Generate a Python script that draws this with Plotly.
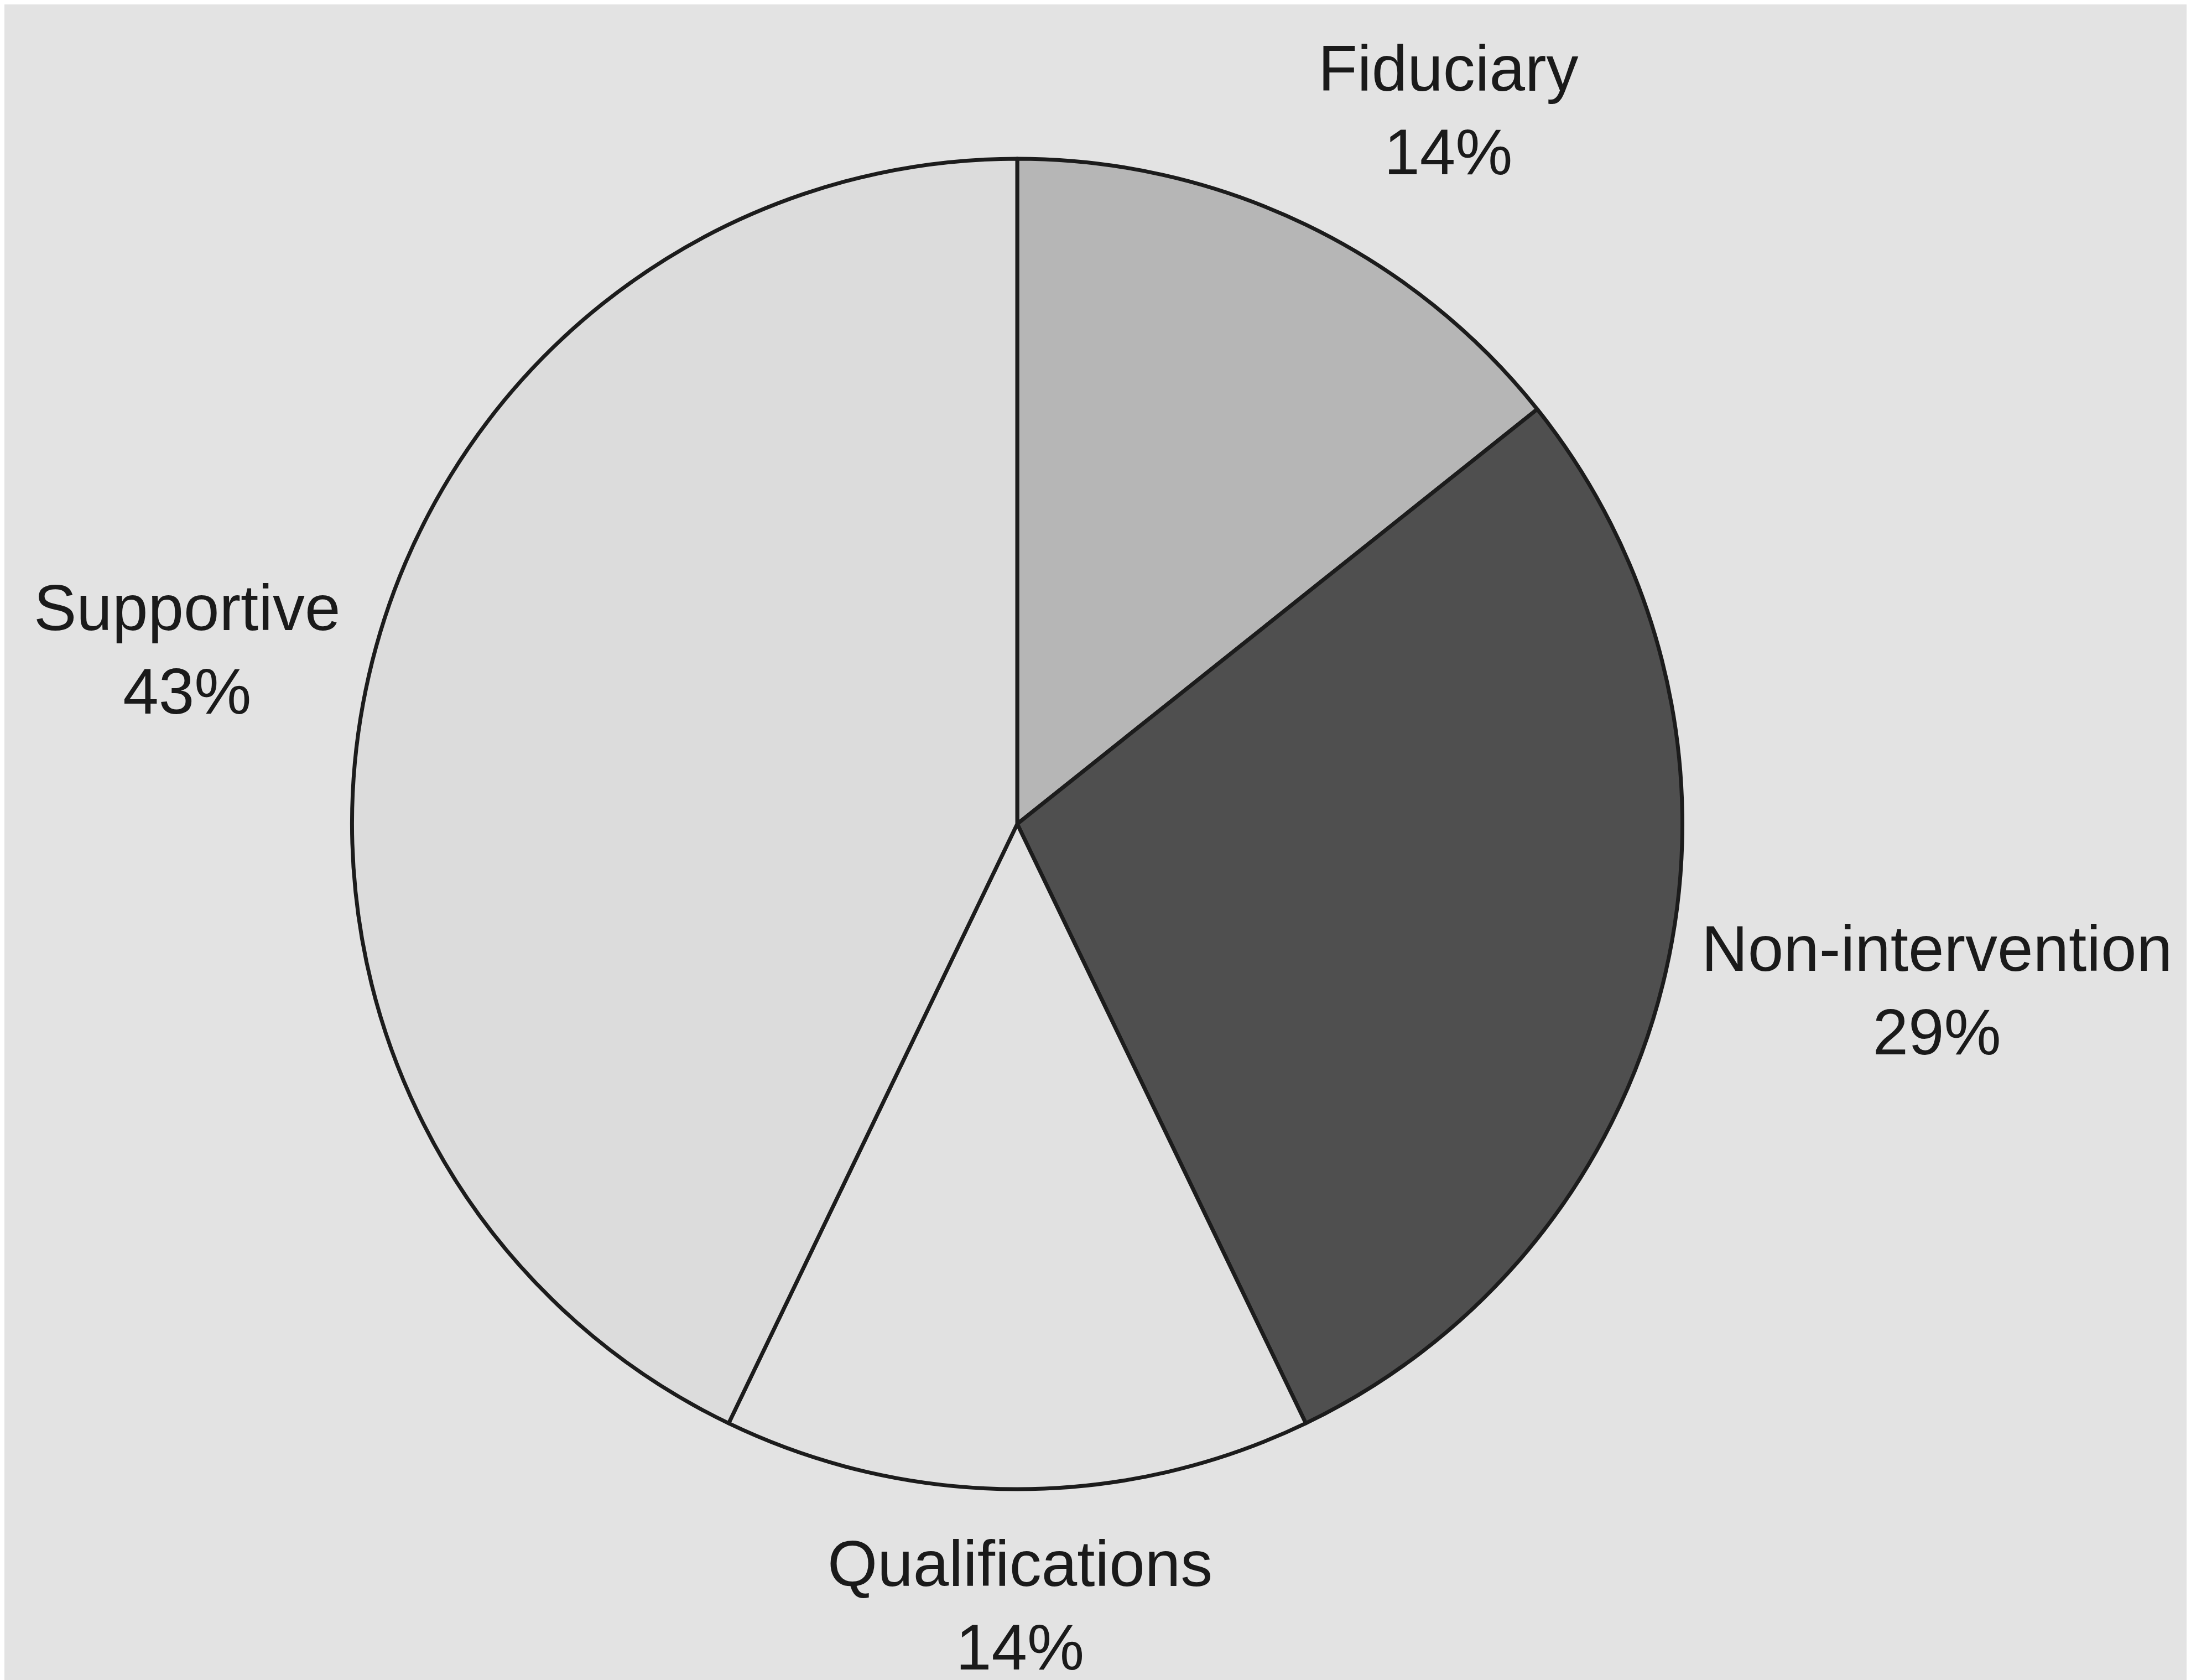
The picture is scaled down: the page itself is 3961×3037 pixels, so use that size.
import plotly.graph_objects as go

# slice data (counts out of 7 cases)
categories = ["Fiduciary", "Non-intervention", "Qualifications", "Supportive"]
counts = [1, 2, 1, 3]
slice_colors = ["#b6b6b6", "#4f4f4f", "#e1e1e1", "#dcdcdc"]

# label anchor positions in paper coordinates (x, y)
label_pos = {
    "Fiduciary": (0.659, 0.937),
    "Non-intervention": (0.882, 0.413),
    "Qualifications": (0.4635, 0.047),
    "Supportive": (0.0835, 0.616),
}

W, H = 3961, 3037
total = sum(counts)

fig = go.Figure()
fig.add_trace(
    go.Pie(
        labels=categories,
        values=counts,
        sort=False,
        direction="clockwise",
        rotation=0,
        textinfo="none",
        hoverinfo="label+percent",
        marker=dict(colors=slice_colors, line=dict(color="#1c1c1c", width=7)),
        domain=dict(x=[628 / W, 3034 / W], y=[1 - 2684 / H, 1 - 279 / H]),
        showlegend=False,
    )
)

for name, n in zip(categories, counts):
    x, y = label_pos[name]
    fig.add_annotation(
        x=x,
        y=y,
        xref="paper",
        yref="paper",
        text=f"{name}<br>{round(100 * n / total)}%",
        showarrow=False,
        xanchor="center",
        yanchor="middle",
        align="center",
        font=dict(family="Liberation Sans, Arial", size=116, color="#1a1a1a"),
    )

fig.update_layout(
    width=W,
    height=H,
    margin=dict(l=0, r=0, t=0, b=0),
    paper_bgcolor="#e3e3e3",
    plot_bgcolor="#e3e3e3",
)

fig.write_html("out.html")
